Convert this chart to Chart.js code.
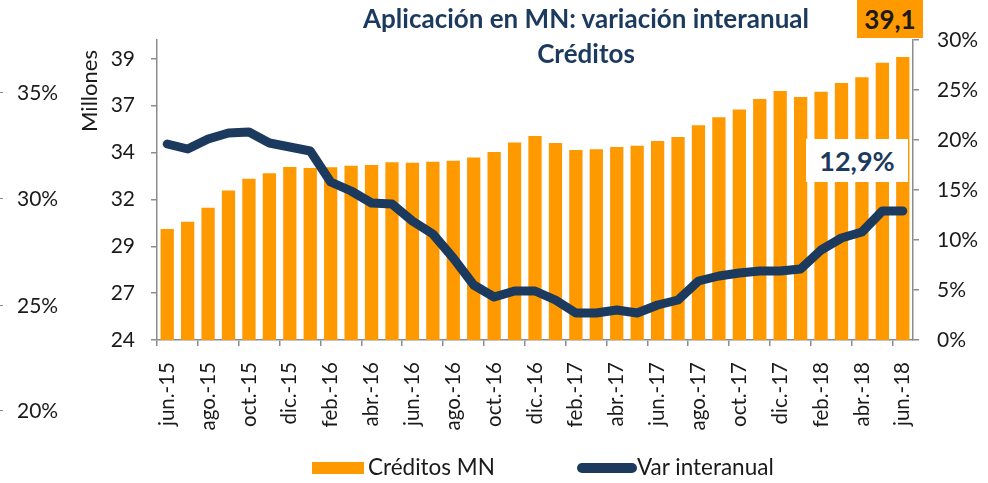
<!DOCTYPE html>
<html>
<head>
<meta charset="utf-8">
<script src="https://cdn.jsdelivr.net/npm/chart.js@4.4.1/dist/chart.umd.min.js"></script>
<style>
  html, body { margin: 0; padding: 0; background: #fff; }
  #wrap { position: relative; width: 988px; height: 483px; overflow: hidden; font-family: Lato, sans-serif; color: #1a1a1a; }
  #wrap canvas { position: absolute; left: 0; top: 0; }
  .title { position: absolute; left: 286px; width: 600px; text-align: center; color: #1b3a5e; font-weight: 700; font-size: 26px; line-height: 35px; top: 1px; }
  .tag { position: absolute; left: 857px; top: 0; width: 66px; height: 38px; background: #ff9900; font-weight: 700; font-size: 26px; line-height: 38px; text-align: center; color: #1a1a1a; }
  .last { position: absolute; left: 806px; top: 139px; width: 102px; height: 43px; background: #fff; color: #1b3a5e; font-weight: 700; font-size: 27px; line-height: 43px; text-align: center; }
  .unit { position: absolute; left: 88px; top: 91px; transform: translate(-50%, -50%) rotate(-90deg); font-size: 22px; white-space: nowrap; }
  .ghost { position: absolute; left: 17px; font-size: 21px; line-height: 24px; }
  .ghost::before { content: ''; position: absolute; left: -17px; top: 12px; width: 3px; height: 1px; background: #888; }
  .legend { position: absolute; top: 453px; font-size: 22.5px; line-height: 27px; }
  .legend i { position: absolute; }
</style>
</head>
<body>
<div id="wrap">
  <canvas id="chart" width="988" height="483"></canvas>
  <div class="title">Aplicación en MN: variación interanual<br>Créditos</div>
  <div class="tag">39,1</div>
  <div class="last">12,9%</div>
  <div class="unit">Millones</div>
  <div class="ghost" style="top:80px">35%</div>
  <div class="ghost" style="top:186px">30%</div>
  <div class="ghost" style="top:293px">25%</div>
  <div class="ghost" style="top:398px">20%</div>
  <div class="legend" style="left:312px"><i style="left:0;top:9px;width:52px;height:12px;background:#ff9900"></i><span style="margin-left:56px">Créditos MN</span></div>
  <div class="legend" style="left:577px"><i style="left:0;top:10px;width:60px;height:10px;border-radius:5px;background:#1b3a5e"></i><span style="margin-left:60px">Var interanual</span></div>
</div>
<script>
const months = [
  'jun.-15', 'jul.-15', 'ago.-15', 'sep.-15', 'oct.-15', 'nov.-15', 'dic.-15',
  'ene.-16', 'feb.-16', 'mar.-16', 'abr.-16', 'may.-16', 'jun.-16', 'jul.-16',
  'ago.-16', 'sep.-16', 'oct.-16', 'nov.-16', 'dic.-16', 'ene.-17', 'feb.-17',
  'mar.-17', 'abr.-17', 'may.-17', 'jun.-17', 'jul.-17', 'ago.-17', 'sep.-17',
  'oct.-17', 'nov.-17', 'dic.-17', 'ene.-18', 'feb.-18', 'mar.-18', 'abr.-18',
  'may.-18', 'jun.-18'
];

// millones
const creditos = [
  29.92, 30.31, 31.06, 31.97, 32.60, 32.89, 33.23, 33.17, 33.21, 33.30,
  33.33, 33.48, 33.46, 33.51, 33.56, 33.74, 34.03, 34.54, 34.88, 34.51,
  34.13, 34.17, 34.29, 34.36, 34.61, 34.83, 35.45, 35.88, 36.30, 36.85,
  37.28, 36.96, 37.24, 37.71, 38.01, 38.79, 39.09
];

// %
const varInteranual = [
  19.6, 19.1, 20.1, 20.7, 20.8, 19.7, 19.3, 18.9, 15.8, 14.9,
  13.7, 13.6, 11.9, 10.6, 8.2, 5.5, 4.3, 4.9, 4.9, 4.0,
  2.7, 2.7, 3.0, 2.7, 3.5, 4.0, 5.9, 6.4, 6.7, 6.9,
  6.9, 7.1, 9.0, 10.2, 10.8, 12.9, 12.9
];

const leftTicks = [24, 26.5, 29, 31.5, 34, 36.5, 39];
const leftLabels = ['24', '27', '29', '32', '34', '37', '39'];
const rightTicks = [0, 5, 10, 15, 20, 25, 30];

const ORANGE = '#ff9900';
const NAVY = '#1b3a5e';
const AXIS = '#8c8c8c';
const TEXT = '#1a1a1a';

Chart.defaults.font.family = 'Lato, sans-serif';
Chart.defaults.color = TEXT;

new Chart(document.getElementById('chart'), {
  data: {
    labels: months,
    datasets: [
      {
        type: 'line', label: 'Var interanual', data: varInteranual, yAxisID: 'y1', order: 0,
        borderColor: NAVY, borderWidth: 9, pointRadius: 0, tension: 0,
        borderCapStyle: 'round', borderJoinStyle: 'round'
      },
      {
        type: 'bar', label: 'Créditos MN', data: creditos, yAxisID: 'y', order: 1,
        backgroundColor: ORANGE, barPercentage: 0.65, categoryPercentage: 1
      }
    ]
  },
  options: {
    responsive: false,
    animation: false,
    layout: { padding: { top: 40, left: 0, right: 0, bottom: 0 } },
    plugins: { legend: { display: false }, tooltip: { enabled: false } },
    scales: {
      x: {
        offset: true,
        grid: {
          offset: true, drawOnChartArea: false, tickLength: 6, lineWidth: 1.5,
          color: (ctx) => (ctx.index % 2 === 0 ? AXIS : 'rgba(0,0,0,0)')
        },
        border: { color: AXIS, width: 1.5 },
        ticks: {
          autoSkip: false, maxRotation: 90, minRotation: 90, padding: 16,
          font: { size: 20.5 }, color: TEXT,
          callback: (v, i) => (i % 2 === 0 ? months[i] : '')
        },
        afterFit: (s) => { s.height = 143; }
      },
      y: {
        position: 'left', min: 24, max: 40,
        afterBuildTicks: (s) => { s.ticks = leftTicks.map((v) => ({ value: v })); },
        grid: { drawOnChartArea: false, tickLength: 6, color: AXIS, lineWidth: 1.5 },
        border: { color: AXIS, width: 1.5 },
        ticks: { padding: 16, font: { size: 21 }, color: TEXT, callback: (v, i) => leftLabels[i] },
        afterFit: (s) => { s.width = 157; }
      },
      y1: {
        position: 'right', min: 0, max: 30,
        afterBuildTicks: (s) => { s.ticks = rightTicks.map((v) => ({ value: v })); },
        grid: { drawOnChartArea: false, tickLength: 6, color: AXIS, lineWidth: 1.5 },
        border: { color: AXIS, width: 1.5 },
        ticks: { padding: 18, font: { size: 21 }, color: TEXT, callback: (v) => v + '%' },
        afterFit: (s) => { s.width = 75; }
      }
    }
  }
});
</script>
</body>
</html>
